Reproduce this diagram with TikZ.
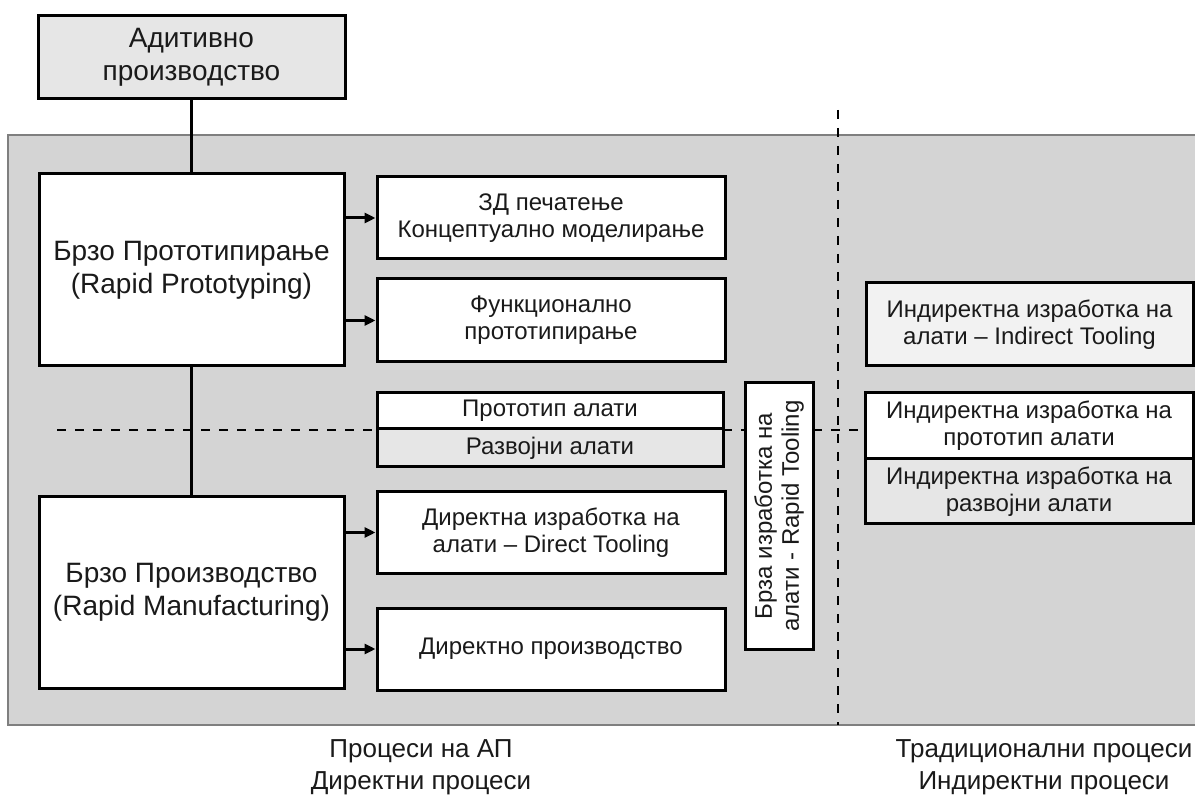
\documentclass[tikz,border=0pt]{standalone}
\usepackage{fontspec}
\setmainfont{Liberation Sans}
\usetikzlibrary{arrows.meta}
\definecolor{bggray}{HTML}{D4D4D4}
\definecolor{lgray}{HTML}{E6E6E6}
\definecolor{vlgray}{HTML}{F2F2F2}
\definecolor{edgegray}{HTML}{7F7F7F}
\definecolor{txt}{HTML}{1A1A1A}
\tikzset{
  corners/.style n args={4}{minimum width={#3-#1}, minimum height={#4-#2}, at={({(#1+#3)/2},{(#2+#4)/2})}},
  box/.style={draw=black, line width=3pt, fill=white, inner sep=0pt, align=center, text=txt, font=\fontsize{24}{27}\selectfont},
  bigbox/.style={box, font=\fontsize{28}{33}\selectfont},
  conn/.style={line width=3pt},
  arr/.style={line width=3pt, -{Triangle[length=11pt,width=10pt]}},
  dashline/.style={line width=2pt, dash pattern=on 9pt off 9pt},
  lbl/.style={align=center, inner sep=0pt, text=txt, font=\fontsize{26}{32}\selectfont}
}
\begin{document}
\begin{tikzpicture}[x=1pt,y=-1pt]
\useasboundingbox (0,0) rectangle (1195,799);
% background area
\node[corners={8}{135}{1205}{725}, draw=edgegray, fill=bggray, line width=1.5pt, inner sep=0pt] (area) {};
% dashed separators
\coordinate (vtop) at (838,110);
\coordinate (vbot) at (838,725);
\coordinate (hleft) at (57,430);
% boxes right column (needed for dashed end)
\node[box, corners={865}{393}{1193}{459}] (ip1) {Индиректна изработка на\\прототип алати};
\draw[dashline] (vtop) -- (vbot);
\draw[dashline] (hleft) -- (hleft -| ip1.west);
% main boxes
\node[bigbox, fill=lgray, corners={38}{16}{345}{99}] (am) {Адитивно\\производство};
\node[bigbox, corners={39}{174}{344}{366}] (rp) {Брзо Прототипирање\\(Rapid Prototyping)};
\node[bigbox, corners={39}{497}{344}{688}] (rm) {Брзо Производство\\(Rapid Manufacturing)};
% middle column
\node[box, corners={377}{177}{725}{259}] (a1) {ЗД печатење\\Концептуално моделирање};
\node[box, corners={377}{279}{725}{362}] (a2) {Функционално\\прототипирање};
\node[box, corners={377}{393}{723}{429}] (pt1) {Прототип алати};
\node[box, fill=lgray, corners={377}{429}{723}{467}] (pt2) {Развојни алати};
\node[box, corners={377}{492}{725}{573}] (dt) {Директна изработка на\\алати – Direct Tooling};
\node[box, corners={377}{608}{725}{690}] (dp) {Директно производство};
\node[box, rotate=90, minimum width=266, minimum height=68, at={(779,516)}] (rt) {Брза изработка на\\алати - Rapid Tooling};
% right column
\node[box, fill=vlgray, corners={866}{283}{1193}{366}] (it) {Индиректна изработка на\\алати – Indirect Tooling};
\node[box, fill=lgray, corners={865}{459}{1193}{524}] (ip2) {Индиректна изработка на\\развојни алати};
% connectors
\draw[conn] (am.south) -- (rp.north);
\draw[conn] (rp.south) -- (rm.north);
\draw[arr] (rp.east |- a1.west) -- (a1.west);
\draw[arr] (rp.east |- a2.west) -- (a2.west);
\draw[arr] (rm.east |- dt.west) -- (dt.west);
\draw[arr] (rm.east |- dp.west) -- (dp.west);
% bottom labels
\node[lbl] (l1) at (421,767) {Процеси на АП\\Директни процеси};
\node[lbl] (l2) at (1044,767) {Традиционални процеси\\Индиректни процеси};
\end{tikzpicture}
\end{document}
